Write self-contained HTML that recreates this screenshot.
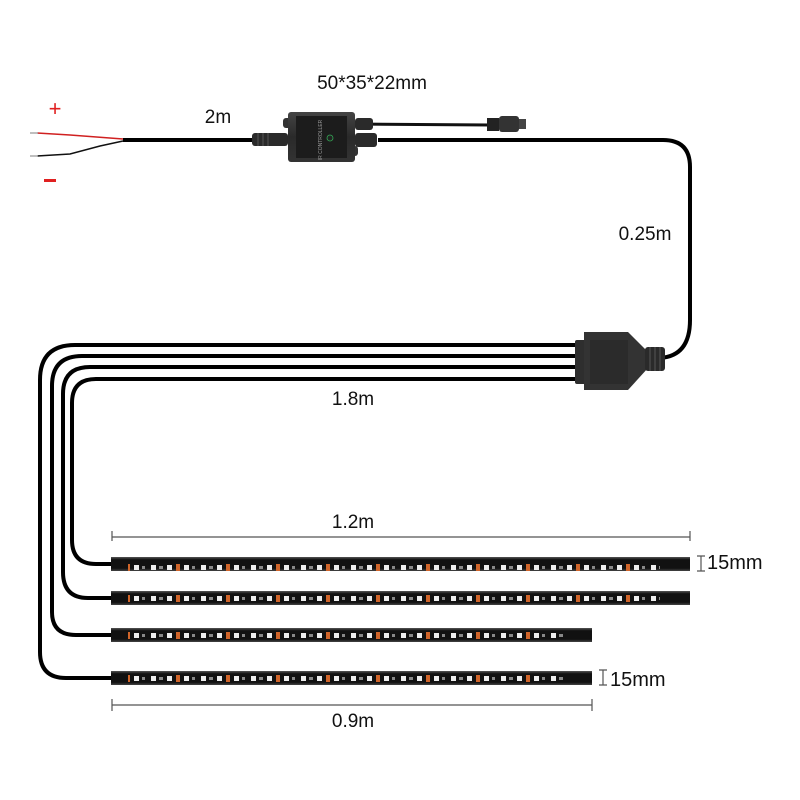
<!DOCTYPE html>
<html><head><meta charset="utf-8"><style>
html,body{margin:0;padding:0;background:#fff;}
svg{display:block;}
text{font-family:"Liberation Sans",sans-serif;fill:#111;}
</style></head><body>
<svg width="800" height="800" viewBox="0 0 800 800" xmlns="http://www.w3.org/2000/svg">
<defs>
<pattern id="led" x="133" y="0" width="50" height="800" patternUnits="userSpaceOnUse">
<rect x="0" y="0" width="50" height="800" fill="none"/>
</pattern>
<linearGradient id="sg" x1="0" y1="0" x2="0" y2="1">
<stop offset="0" stop-color="#555"/><stop offset="0.2" stop-color="#111"/><stop offset="0.8" stop-color="#111"/><stop offset="1" stop-color="#444"/>
</linearGradient>
<linearGradient id="bx" x1="0" y1="0" x2="0" y2="1">
<stop offset="0" stop-color="#444"/><stop offset="0.5" stop-color="#2a2a2a"/><stop offset="1" stop-color="#333"/>
</linearGradient>
</defs>

<!-- texts -->
<text x="372" y="89" font-size="19" text-anchor="middle">50*35*22mm</text>
<text x="218" y="123" font-size="19" text-anchor="middle">2m</text>
<text x="645" y="240" font-size="19" text-anchor="middle">0.25m</text>
<text x="353" y="405" font-size="19" text-anchor="middle">1.8m</text>
<text x="353" y="528" font-size="19" text-anchor="middle">1.2m</text>
<text x="353" y="727" font-size="19" text-anchor="middle">0.9m</text>
<text x="707" y="569" font-size="20">15mm</text>
<text x="610" y="686" font-size="20">15mm</text>
<text x="55" y="116" font-size="22" fill="#e02020" style="fill:#e02020" text-anchor="middle">+</text>
<rect x="44" y="179" width="12" height="3" fill="#e02020"/>

<!-- I-beam markers -->
<g stroke="#555" stroke-width="1.2" fill="none">
<path d="M697 556 h8 M701 556 v15 M697 571 h8"/>
<path d="M599 670 h8 M603 670 v15 M599 685 h8"/>
<path d="M112 537 h578 M112 531 v10 M690 531 v10"/>
<path d="M112 705 h480 M112 699 v12 M592 699 v12"/>
</g>

<!-- input wires -->
<path d="M37 133 L70 135 L123 139" stroke="#d02020" stroke-width="1.5" fill="none"/>
<path d="M37 156 L70 154 L100 146 L123 141" stroke="#111" stroke-width="1.5" fill="none"/>
<path d="M30 133 h8 M30 156 h8" stroke="#aaa" stroke-width="1.5"/>

<!-- main cable -->
<path d="M123 140 H252" stroke="#000" stroke-width="4" fill="none"/>
<path d="M378 140 H663 Q690 140 690 167 V320 Q690 356 660 358" stroke="#000" stroke-width="4" fill="none"/>
<!-- top cable to connector -->
<path d="M355 124 L490 125" stroke="#111" stroke-width="3" fill="none"/>
<rect x="487" y="118" width="12" height="13" fill="#222"/>
<rect x="499" y="116" width="20" height="16" rx="3" fill="#333"/>
<rect x="519" y="119" width="7" height="10" fill="#444"/>

<!-- controller -->
<rect x="252" y="133" width="36" height="13" rx="3" fill="#2a2a2a"/>
<g stroke="#555" stroke-width="1"><path d="M258 133 v13 M263 133 v13 M268 133 v13"/></g>
<rect x="355" y="133" width="22" height="14" rx="3" fill="#2a2a2a"/>
<rect x="355" y="118" width="18" height="12" rx="3" fill="#2a2a2a"/>
<rect x="283" y="118" width="12" height="10" rx="3" fill="#333"/>
<rect x="346" y="146" width="12" height="10" rx="3" fill="#333"/>
<rect x="288" y="112" width="67" height="50" rx="3" fill="url(#bx)"/>
<rect x="296" y="116" width="51" height="42" fill="#1c1c1c"/>
<g fill="#aaa" font-size="4"><text x="322" y="140" style="fill:#999;font-size:5px" text-anchor="middle" transform="rotate(-90 322 140)">IR CONTROLLER</text></g>
<circle cx="330" cy="138" r="3" fill="#222" stroke="#3a5" stroke-width="0.8"/>

<!-- four cables -->
<g stroke="#000" stroke-width="4" fill="none">
<path d="M578 345 H75 Q40 345 40 380 V652 Q40 678 66 678 H112"/>
<path d="M578 356 H82 Q52 356 52 386 V612 Q52 635 76 635 H112"/>
<path d="M578 367 H90 Q63 367 63 394 V572 Q63 598 88 598 H112"/>
<path d="M578 379 H96 Q72 379 72 403 V540 Q72 564 96 564 H112"/>
</g>

<!-- junction box -->
<rect x="575" y="340" width="12" height="44" rx="2" fill="#2e2e2e"/>
<path d="M584 332 H628 L648 352 V368 L628 390 H584 Z" fill="#333"/>
<rect x="590" y="340" width="38" height="44" fill="#2b2b2b"/>
<rect x="645" y="347" width="20" height="24" rx="3" fill="#2a2a2a"/>
<g stroke="#555" stroke-width="1"><path d="M650 347 v24 M655 347 v24 M660 347 v24"/></g>

<!-- strips -->
<g id="strips">
<rect x="111" y="557" width="579" height="14" fill="url(#sg)"/>
<rect x="111" y="591" width="579" height="14" fill="url(#sg)"/>
<rect x="111" y="628" width="481" height="14" fill="url(#sg)"/>
<rect x="111" y="671" width="481" height="14" fill="url(#sg)"/>
</g>
<defs>
<pattern id="lp" x="134" y="0" width="50" height="14" patternUnits="userSpaceOnUse">
<rect x="0" y="5" width="5" height="5" fill="#eee"/>
<rect x="8" y="6" width="3" height="3" fill="#888"/>
<rect x="17" y="5" width="5" height="5" fill="#eee"/>
<rect x="25" y="6" width="4" height="3" fill="#888"/>
<rect x="33" y="5" width="5" height="5" fill="#eee"/>
<rect x="42" y="4" width="4" height="7" fill="#d0652a"/>
</pattern>
</defs>
<rect x="128" y="557" width="532" height="14" fill="url(#lp)" transform="translate(0,0)"/>
<g>
<svg x="0" y="591" width="800" height="14" overflow="visible"><rect x="128" y="0" width="532" height="14" fill="url(#lp)"/></svg>
<svg x="0" y="628" width="800" height="14" overflow="visible"><rect x="128" y="0" width="437" height="14" fill="url(#lp)"/></svg>
<svg x="0" y="671" width="800" height="14" overflow="visible"><rect x="128" y="0" width="437" height="14" fill="url(#lp)"/></svg>
</g>
</svg>
</body></html>
